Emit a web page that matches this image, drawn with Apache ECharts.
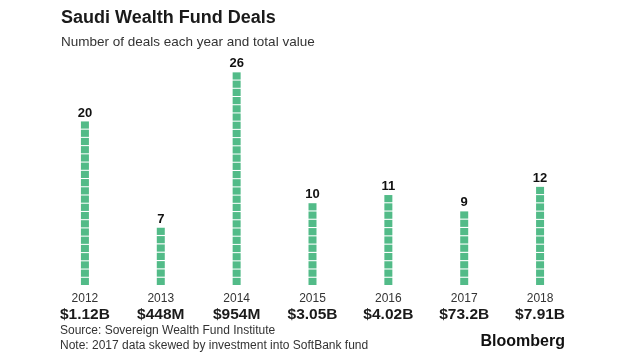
<!DOCTYPE html>
<html><head><meta charset="utf-8">
<script src="https://cdn.jsdelivr.net/npm/echarts@6/dist/echarts.min.js"></script>
<style>html,body{margin:0;padding:0;background:#fff}#c{width:620px;height:355px}</style>
</head><body><div id="c"></div>
<script>
const years = ['2012','2013','2014','2015','2016','2017','2018'];
const deals = [20, 7, 26, 10, 11, 9, 12];
const totals = ['$1.12B','$448M','$954M','$3.05B','$4.02B','$73.2B','$7.91B'];

const chart = echarts.init(document.getElementById('c'));
const FONT = '"Liberation Sans", Arial, sans-serif';
chart.setOption({
  backgroundColor: '#fff',
  animation: false,
  textStyle: { fontFamily: FONT },
  title: [
    { text: 'Saudi Wealth Fund Deals', left: 56, top: 4,
      textStyle: { fontSize: 18, fontWeight: 'bold', color: '#1a1a1a', fontFamily: FONT } },
    { text: 'Number of deals each year and total value', left: 56, top: 30,
      textStyle: { fontSize: 13.5, fontWeight: 'normal', color: '#333', fontFamily: FONT } }
  ],
  graphic: [
    { type: 'text', left: 60, top: 325, style: { text: 'Source: Sovereign Wealth Fund Institute', font: '12px ' + FONT, fill: '#333' } },
    { type: 'text', left: 60, top: 340, style: { text: 'Note: 2017 data skewed by investment into SoftBank fund', font: '12px ' + FONT, fill: '#333' } },
    { type: 'text', right: 55, top: 334, style: { text: 'Bloomberg', font: 'bold 16px ' + FONT, fill: '#111' } }
  ],
  grid: { left: 47, right: 42, top: 56, bottom: 70 },
  xAxis: {
    type: 'category', data: years,
    axisLine: { show: false }, axisTick: { show: false },
    axisLabel: {
      margin: 6, interval: 0,
      formatter: (v, i) => '{y|' + v + '}\n{t|' + totals[i] + '}',
      rich: {
        y: { fontSize: 12, color: '#333', lineHeight: 15, fontFamily: FONT },
        t: { fontSize: 15.5, fontWeight: 'bold', color: '#1a1a1a', lineHeight: 18, fontFamily: FONT }
      }
    }
  },
  yAxis: { type: 'value', min: 0, max: 28, show: false, splitLine: { show: false } },
  series: [{
    type: 'pictorialBar',
    symbol: 'rect',
    symbolSize: [8, 7.2],
    symbolMargin: 0.5,
    symbolClip: false,
    itemStyle: { color: '#52bb88' },
    label: { show: true, position: 'top', distance: 2, fontSize: 13, fontWeight: 'bold', color: '#111', fontFamily: FONT },
    data: deals.map(v => ({ value: v, symbolRepeat: v, symbolBoundingData: v }))
  }]
});
</script></body></html>
